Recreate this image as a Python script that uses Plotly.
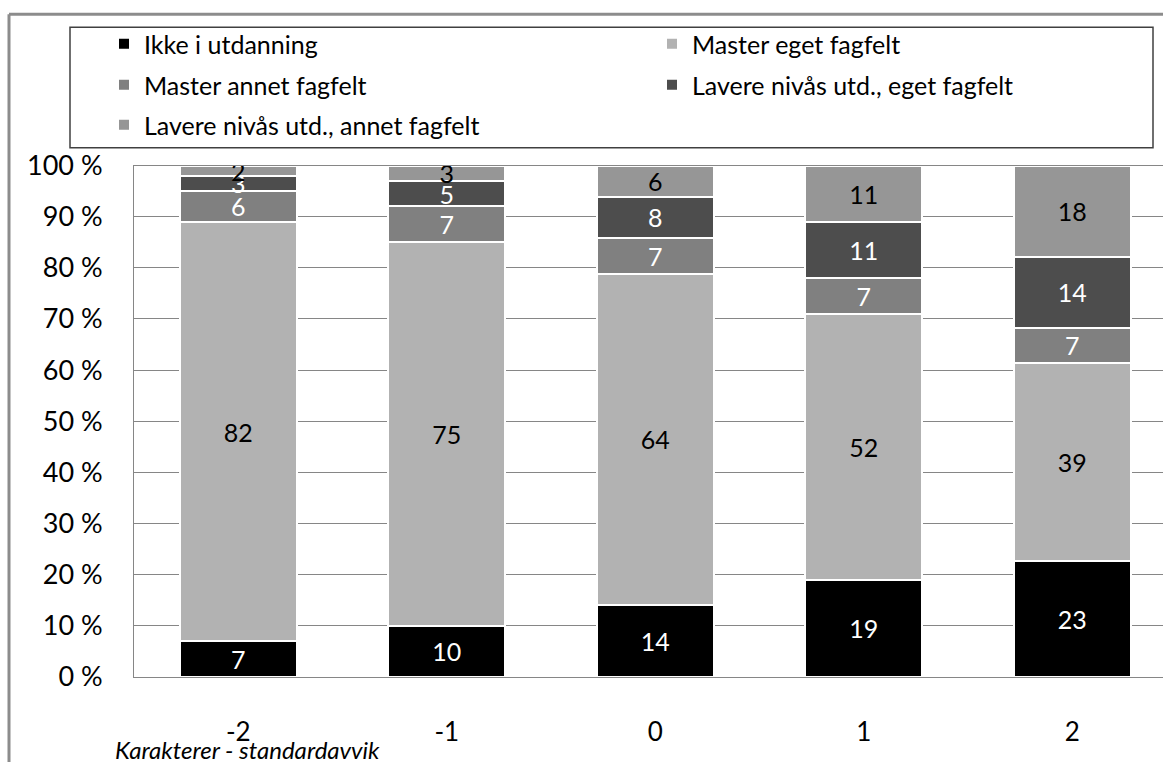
import plotly.graph_objects as go

# categories (grade deviation) and shares per group, in percent
categories = ["-2", "-1", "0", "1", "2"]
ikke_utdanning = [7, 10, 14, 19, 23]
master_eget = [82, 75, 64, 52, 39]
master_annet = [6, 7, 7, 7, 7]
lavere_eget = [3, 5, 8, 11, 14]
lavere_annet = [2, 3, 6, 11, 18]

series_names = ["Ikke i utdanning", "Master eget fagfelt", "Master annet fagfelt",
                "Lavere nivås utd., eget fagfelt", "Lavere nivås utd., annet fagfelt"]
series_values = [ikke_utdanning, master_eget, master_annet, lavere_eget, lavere_annet]
series_colors = ["#000000", "#b2b2b2", "#808080", "#4d4d4d", "#969696"]
text_colors = ["white", "black", "white", "white", "black"]

# legend grid: (left px, row centre px) for each entry
legend_pos = [(104, 44), (652, 44), (104, 85), (652, 85), (104, 125)]
legend_ids = ["legend", "legend2", "legend3", "legend4", "legend5"]

W, H = 1163, 762
L, R, T, B = 134, 0, 163, 85
FONT = "Lato"
FS = 25

pw = W - L - R
ph = H - T - B


def px(x):
    return (x - L) / pw


def py(y):
    return (H - B - y) / ph


xs = list(range(len(categories)))
fig = go.Figure()
for name, vals, col, tcol, lg in zip(series_names, series_values, series_colors, text_colors, legend_ids):
    fig.add_trace(go.Bar(
        x=xs, y=vals, name=name, legend=lg, showlegend=True,
        marker=dict(color=col, line=dict(color="white", width=2)),
        text=vals, texttemplate="%{text}", textposition="inside",
        insidetextanchor="middle", textangle=0,
        textfont=dict(color=tcol, size=FS, family=FONT),
    ))

legends = {}
for lg, (lx, ly) in zip(legend_ids, legend_pos):
    legends[lg] = dict(x=lx / W, y=1 - ly / H, xref="container", yref="container",
                       xanchor="left", yanchor="middle", orientation="h",
                       font=dict(family=FONT, size=FS, color="black"),
                       bgcolor="rgba(0,0,0,0)", itemclick=False)

cat_w = 208.5

fig.update_layout(
    width=W, height=H,
    showlegend=True,
    margin=dict(l=L, r=R, t=T, b=B, pad=0),
    barmode="stack", barnorm="percent", bargap=0.44,
    plot_bgcolor="white", paper_bgcolor="white",
    font=dict(family=FONT, size=FS, color="black"),
    uniformtext=dict(minsize=FS, mode="show"),
    xaxis=dict(tickvals=xs, ticktext=categories, range=[-0.5, -0.5 + pw / cat_w],
               showgrid=False, showline=True, linecolor="#868686", linewidth=1, mirror=True,
               ticks="", ticklabelstandoff=32, tickfont=dict(size=26)),
    yaxis=dict(range=[0, 100], dtick=10, ticksuffix=" %", showgrid=True, gridcolor="#868686",
               gridwidth=1, showline=True, linecolor="#868686", linewidth=1, zeroline=False,
               ticks="", ticklabelstandoff=25, tickfont=dict(size=27)),
    shapes=[
        # outer chart frame (top and left edges)
        dict(type="line", xref="paper", yref="paper", x0=px(9), x1=px(W + 5), y0=py(11), y1=py(11),
             line=dict(color="#8c8c8c", width=3)),
        dict(type="line", xref="paper", yref="paper", x0=px(9), x1=px(9), y0=py(11), y1=py(H + 5),
             line=dict(color="#8c8c8c", width=3)),
        # legend box
        dict(type="rect", xref="paper", yref="paper", x0=px(70), x1=px(1153), y0=py(24), y1=py(145),
             line=dict(color="#404040", width=1.5)),
    ],
    annotations=[
        dict(text="<i>Karakterer - standardavvik</i>", xref="paper", yref="paper",
             x=px(113), y=py(750), xanchor="left", yanchor="middle", showarrow=False,
             font=dict(family=FONT, size=24, color="black")),
    ],
    **legends,
)

fig.write_html("out.html", config={"displayModeBar": False},
               post_script="document.body.style.margin='0';")
